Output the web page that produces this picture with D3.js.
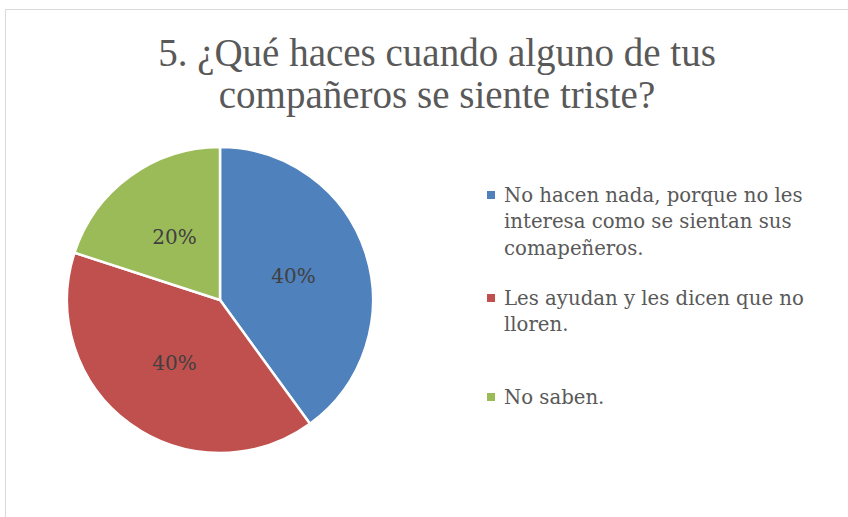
<!DOCTYPE html>
<html>
<head>
<meta charset="utf-8">
<script src="https://cdn.jsdelivr.net/npm/d3@7"></script>
<style>
  body { margin: 0; background: #fff; }
  svg { display: block; font-family: "DejaVu Serif", serif; }
</style>
</head>
<body>
<div id="chart"></div>
<script>
// data
const categories = [
    "No hacen nada, porque no les interesa como se sientan sus comapeñeros.",
    "Les ayudan y les dicen que no lloren.",
    "No saben."
];
const legendLines = [
    ["No hacen nada, porque no les", "interesa como se sientan sus", "comapeñeros."],
    ["Les ayudan y les dicen que no", "lloren."],
    ["No saben."]
];
const values = [40, 40, 20];
const colors = ["#4f81bd", "#c0504d", "#9bbb59"];
const titleLines = ["5. ¿Qué haces cuando alguno de tus", "compañeros se siente triste?"];

const width = 848, height = 517;

const svg = d3.select("#chart").append("svg")
    .attr("width", width)
    .attr("height", height);

// chart border
svg.append("rect")
    .attr("x", 5.5).attr("y", 9.5)
    .attr("width", width).attr("height", height)
    .attr("fill", "#fff")
    .attr("stroke", "#d9d9d9")
    .attr("stroke-width", 1);

// title
svg.append("text")
    .attr("text-anchor", "middle")
    .attr("fill", "#595959")
    .style("font-family", "'Liberation Serif', serif")
    .style("font-size", "39px")
    .selectAll("tspan")
    .data(titleLines)
    .enter().append("tspan")
    .attr("x", 437)
    .attr("y", (d, i) => 66 + i * 42)
    .text(d => d);

// pie
const radius = 153;
const cx = 220, cy = 300;
const pie = d3.pie().sort(null).value(d => d);
const arc = d3.arc().innerRadius(0).outerRadius(radius);
const labelArc = d3.arc().innerRadius(radius * 0.505).outerRadius(radius * 0.505);
const total = d3.sum(values);

const g = svg.append("g").attr("transform", `translate(${cx},${cy})`);

const slices = g.selectAll(".slice")
    .data(pie(values))
    .enter().append("g")
    .attr("class", "slice");

slices.append("path")
    .attr("d", arc)
    .attr("fill", (d, i) => colors[i])
    .attr("stroke", "#fff")
    .attr("stroke-width", 2.5)
    .attr("stroke-linejoin", "round");

slices.append("text")
    .attr("transform", d => `translate(${labelArc.centroid(d)})`)
    .attr("text-anchor", "middle")
    .attr("dy", "0.35em")
    .attr("fill", "#404040")
    .style("font-size", "20px")
    .text(d => Math.round(d.data / total * 100) + "%");

// legend
const legendTop = [195, 298, 397];
const legend = svg.append("g").attr("class", "legend");
legendLines.forEach((lines, i) => {
    legend.append("rect")
        .attr("x", 487).attr("y", legendTop[i] - 4)
        .attr("width", 8).attr("height", 8)
        .attr("fill", colors[i]);
    legend.append("text")
        .attr("fill", "#595959")
        .style("font-size", "19.7px")
        .selectAll("tspan")
        .data(lines)
        .enter().append("tspan")
        .attr("x", 504)
        .attr("y", (d, j) => legendTop[i] + j * 26.5)
        .attr("dy", "0.35em")
        .text(d => d);
});
</script>
</body>
</html>
